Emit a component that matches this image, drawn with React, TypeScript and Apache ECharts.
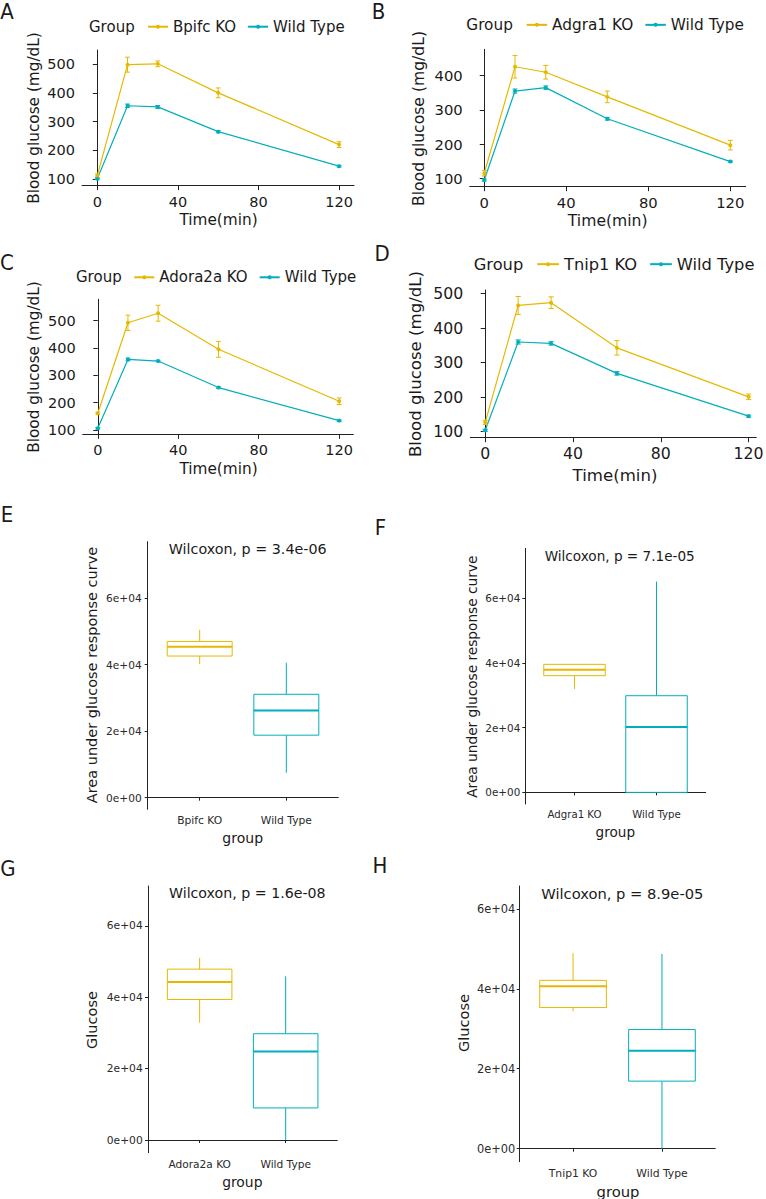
import React, { useEffect, useRef } from 'react';
import * as echarts from 'echarts';

// ---------- colours / fonts ----------
const YELLOW = '#E7B800';
const CYAN = '#00AFBB';
const INK = '#1a1a1a';
const FONT = "'DejaVu Sans', 'Noto Sans', sans-serif";
const LETTER_FONT = "'DejaVu Sans Condensed', 'Liberation Sans Narrow', 'DejaVu Sans', sans-serif";

// ---------- data: glucose tolerance curves ----------
const timeMin = [0, 15, 30, 60, 120];
const timeTicks = [0, 40, 80, 120];
const glucoseTicks = [100, 200, 300, 400, 500];
const glucoseTicksB = [100, 200, 300, 400];
const wildType = 'Wild Type';

const koNameA = 'Bpifc KO';
const koMeanA = [112, 498, 501, 400, 220];
const koSEA = [6, 26, 10, 17, 10];
const wtMeanA = [101, 355, 351, 265, 145];
const wtSEA = [3, 6, 5, 4, 3];

const koNameB = 'Adgra1 KO';
const koMeanB = [115, 426, 410, 338, 197];
const koSEB = [8, 33, 20, 17, 14];
const wtMeanB = [95, 355, 365, 274, 149];
const wtSEB = [3, 6, 5, 4, 2];

const koNameC = 'Adora2a KO';
const koMeanC = [161, 492, 527, 395, 205];
const koSEC = [4, 28, 29, 29, 12];
const wtMeanC = [106, 358, 352, 255, 134];
const wtSEC = [3, 5, 3, 3, 3];

const koNameD = 'Tnip1 KO';
const koMeanD = [127, 466, 474, 343, 201];
const koSED = [6, 26, 17, 21, 8];
const wtMeanD = [104, 360, 356, 269, 145];
const wtSED = [3, 6, 5, 5, 3];

// ---------- data: AUC boxplots [min, q1, median, q3, max] ----------
const aucTicks = [0, 20000, 40000, 60000];
const boxCatsE = ['Bpifc KO', 'Wild Type'];
const boxKoE = [40200, 42600, 45400, 47000, 50500];
const boxWtE = [7500, 18800, 26200, 31100, 40600];
const pLabelE = 'Wilcoxon, p = 3.4e-06';

const boxCatsF = ['Adgra1 KO', 'Wild Type'];
const boxKoF = [32000, 36100, 37900, 39600, 39600];
const boxWtF = [0, 0, 20200, 29900, 65200];
const pLabelF = 'Wilcoxon, p = 7.1e-05';

const boxCatsG = ['Adora2a KO', 'Wild Type'];
const boxKoG = [32900, 39400, 44300, 47900, 51100];
const boxWtG = [0, 9000, 24800, 29800, 45900];
const pLabelG = 'Wilcoxon, p = 1.6e-08';

const boxCatsH = ['Tnip1 KO', 'Wild Type'];
const boxKoH = [34400, 35300, 40600, 42100, 48900];
const boxWtH = [0, 16900, 24500, 29800, 48700];
const pLabelH = 'Wilcoxon, p = 8.9e-05';

// ---------- layout ----------
const linePanels = [
  { letter: 'A', lx: 7, ly: 11.5, ko: koNameA, koMean: koMeanA, koSE: koSEA, wtMean: wtMeanA, wtSE: wtSEA, yTicks: glucoseTicks,
    grid: { left: 82, top: 50, width: 272, height: 135.7 }, xr: [-7.6, 127.4], yr: [77, 549], s: 1,
    groupX: 89, legendX: 147, legendY: 26.7, yTitle: [34, 118], xTitle: [218.5, 220], xm: 8.5 },
  { letter: 'B', lx: 378.5, ly: 11.7, ko: koNameB, koMean: koMeanB, koSE: koSEB, wtMean: wtMeanB, wtSE: wtSEB, yTicks: glucoseTicksB,
    grid: { left: 469.7, top: 49.3, width: 276, height: 137.4 }, xr: [-7.1, 127.5], yr: [75.6, 477], s: 1.02,
    groupX: 466.3, legendX: 525.7, legendY: 25, yTitle: [419, 118.5], xTitle: [607.7, 221], xm: 8.5 },
  { letter: 'C', lx: 7, ly: 262.5, ko: koNameC, koMean: koMeanC, koSE: koSEC, wtMean: wtMeanC, wtSE: wtSEC, yTicks: glucoseTicks,
    grid: { left: 82.7, top: 299.3, width: 270.6, height: 135 }, xr: [-7.5, 127], yr: [84, 578], s: 1,
    groupX: 76, legendX: 133.3, legendY: 277.3, yTitle: [34, 367], xTitle: [218.5, 469.3], xm: 8.4 },
  { letter: 'D', lx: 382, ly: 253, ko: koNameD, koMean: koMeanD, koSE: koSED, wtMean: wtMeanD, wtSE: wtSED, yTicks: glucoseTicks,
    grid: { left: 470.3, top: 290, width: 286, height: 147.7 }, xr: [-6.8, 123.5], yr: [82.5, 510.8], s: 1.085,
    groupX: 473.7, legendX: 536.3, legendY: 264.3, yTitle: [415.5, 364], xTitle: [615, 475], xm: 7.7 },
];

const boxPanels = [
  { letter: 'E', lx: 7, ly: 514, cats: boxCatsE, ko: boxKoE, wt: boxWtE, p: pLabelE, yName: 'Area under glucose response curve',
    grid: { left: 147.7, top: 541.7, width: 190.6, height: 267.6 }, yr: [-3500, 77000],
    tick: 10.6, cat: 10.7, title: 14.3, grp: 14, yt: 14.5, ym: 6, xm: 6,
    yTitle: [91.7, 675], pPos: [247.7, 549], grpPos: [242.7, 838] },
  { letter: 'F', lx: 380.5, ly: 527, cats: boxCatsF, ko: boxKoF, wt: boxWtF, p: pLabelF, yName: 'Area under glucose response curve',
    grid: { left: 525.3, top: 548.3, width: 180.4, height: 255.7 }, yr: [-3600, 75500],
    tick: 10.4, cat: 10.2, title: 13.6, grp: 13.6, yt: 13.7, ym: 5, xm: 5.5,
    yTitle: [472.3, 676.7], pPos: [619.7, 556], grpPos: [615.3, 831.7] },
  { letter: 'G', lx: 8, ly: 868.5, cats: boxCatsG, ko: boxKoG, wt: boxWtG, p: pLabelG, yName: 'Glucose',
    grid: { left: 148, top: 886, width: 189.3, height: 266.7 }, yr: [-3550, 71200],
    tick: 10.7, cat: 10.6, title: 14.2, grp: 13.9, yt: 14.5, ym: 5.3, xm: 6,
    yTitle: [91.7, 1020], pPos: [247.3, 893.3], grpPos: [242.3, 1181.7] },
  { letter: 'H', lx: 380, ly: 865, cats: boxCatsH, ko: boxKoH, wt: boxWtH, p: pLabelH, yName: 'Glucose',
    grid: { left: 519.7, top: 886, width: 195.6, height: 275.7 }, yr: [-3250, 65700],
    tick: 11.4, cat: 10.8, title: 14.7, grp: 14.8, yt: 14.6, ym: 4.5, xm: 6,
    yTitle: [463, 1023], pPos: [622.3, 893.3], grpPos: [618, 1191.7] },
];

const ERR_CAP = 2.4; // minutes (full cap width)
const BOX_WIDTH = 0.75; // category units

const sci = (v: number) => {
  const [m, e] = v.toExponential(0).split('e');
  return `${m}e${e[0]}${e.slice(1).padStart(2, '0')}`;
};

const errRender = (color: string) => (params: any, api: any) => {
  const x = api.value(0);
  const top = api.coord([x, api.value(2)]);
  const bot = api.coord([x, api.value(1)]);
  const half = api.size([ERR_CAP, 0])[0] / 2;
  const style = { stroke: color, lineWidth: 1, fill: 'none' };
  return {
    type: 'group',
    children: [
      { type: 'line', shape: { x1: top[0], y1: top[1], x2: bot[0], y2: bot[1] }, style },
      { type: 'line', shape: { x1: top[0] - half, y1: top[1], x2: top[0] + half, y2: top[1] }, style },
      { type: 'line', shape: { x1: bot[0] - half, y1: bot[1], x2: bot[0] + half, y2: bot[1] }, style },
    ],
  };
};

const boxRender = (color: string) => (params: any, api: any) => {
  const x = api.value(0);
  const yMin = api.coord([x, api.value(1)])[1];
  const yQ1 = api.coord([x, api.value(2)])[1];
  const yMed = api.coord([x, api.value(3)])[1];
  const yQ3 = api.coord([x, api.value(4)])[1];
  const yMax = api.coord([x, api.value(5)])[1];
  const cx = api.coord([x, 0])[0];
  const half = api.size([BOX_WIDTH, 0])[0] / 2;
  const line = { stroke: color, lineWidth: 1, fill: 'none' };
  return {
    type: 'group',
    children: [
      { type: 'line', shape: { x1: cx, y1: yQ3, x2: cx, y2: yMax }, style: line },
      { type: 'line', shape: { x1: cx, y1: yQ1, x2: cx, y2: yMin }, style: line },
      { type: 'rect', shape: { x: cx - half, y: yQ3, width: half * 2, height: Math.max(yQ1 - yQ3, 0) },
        style: { fill: '#ffffff', stroke: color, lineWidth: 1 } },
      { type: 'line', shape: { x1: cx - half, y1: yMed, x2: cx + half, y2: yMed }, style: { stroke: color, lineWidth: 2 } },
    ],
  };
};

const txt = (text: string, x: number, y: number, size: number, opts: any = {}) => ({
  type: 'text',
  x,
  y,
  rotation: opts.rotation || 0,
  silent: true,
  style: {
    text,
    fill: opts.fill || INK,
    fontSize: size,
    fontFamily: opts.family || FONT,
    align: opts.align || 'center',
    textAlign: opts.align || 'center',
    verticalAlign: 'middle',
    textVerticalAlign: 'middle',
  },
});

function buildOption() {
  const grid: any[] = [];
  const xAxis: any[] = [];
  const yAxis: any[] = [];
  const series: any[] = [];
  const legend: any[] = [];
  const graphic: any[] = [];
  const axisLine = { show: true, lineStyle: { color: '#222', width: 1 } };

  linePanels.forEach((p, i) => {
    grid.push({ ...p.grid, containLabel: false, outerBoundsMode: 'none' });
    xAxis.push({
      type: 'value', gridIndex: i, min: p.xr[0], max: p.xr[1],
      axisLine, splitLine: { show: false },
      axisTick: { show: true, length: 4.5, customValues: timeTicks, lineStyle: { color: '#222' } },
      axisLabel: { customValues: timeTicks, fontSize: 14.5 * p.s, color: INK, fontFamily: FONT, margin: p.xm },
    });
    yAxis.push({
      type: 'value', gridIndex: i, min: p.yr[0], max: p.yr[1],
      axisLine, splitLine: { show: false },
      axisTick: { show: true, length: 4.5, customValues: p.yTicks, lineStyle: { color: '#222' } },
      axisLabel: { customValues: p.yTicks, fontSize: 14.5 * p.s, color: INK, fontFamily: FONT, margin: 7 },
    });
    const mk = (name: string, mean: number[], color: string) => ({
      type: 'line', name, xAxisIndex: i, yAxisIndex: i,
      data: timeMin.map((t, k) => [t, mean[k]]),
      symbol: 'circle', symbolSize: 4, showSymbol: true,
      itemStyle: { color }, lineStyle: { color, width: 1.2 }, z: 2,
    });
    const mkErr = (name: string, mean: number[], se: number[], color: string) => ({
      type: 'custom', name: name + ' SE', xAxisIndex: i, yAxisIndex: i, coordinateSystem: 'cartesian2d',
      data: timeMin.map((t, k) => [t, mean[k] - se[k], mean[k] + se[k]]),
      renderItem: errRender(color), encode: { x: 0, y: [1, 2] }, z: 3,
    });
    series.push(mk(p.ko, p.koMean, YELLOW), mk(wildType, p.wtMean, CYAN));
    series.push(mkErr(p.ko, p.koMean, p.koSE, YELLOW), mkErr(wildType + i, p.wtMean, p.wtSE, CYAN));
    const lf = 15 * p.s;
    legend.push({
      data: [p.ko, wildType], left: p.legendX, top: p.legendY - lf / 2, padding: 0,
      itemWidth: 20 * p.s, itemHeight: 5, itemGap: 11 * p.s, selectedMode: false,
      textStyle: { fontSize: lf, color: INK, fontFamily: FONT },
    });
    graphic.push(txt('Group', p.groupX, p.legendY, lf, { align: 'left' }));
    graphic.push(txt('Blood glucose (mg/dL)', p.yTitle[0], p.yTitle[1], 15.3 * p.s, { rotation: Math.PI / 2 }));
    graphic.push(txt('Time(min)', p.xTitle[0], p.xTitle[1], 15.3 * p.s));
    graphic.push(txt(p.letter, p.lx, p.ly, 22, { family: LETTER_FONT }));
  });

  boxPanels.forEach((p, j) => {
    const i = linePanels.length + j;
    grid.push({ ...p.grid, containLabel: false, outerBoundsMode: 'none' });
    xAxis.push({
      type: 'value', gridIndex: i, min: 0.4, max: 2.6,
      axisLine, splitLine: { show: false },
      axisTick: { show: true, length: 3, customValues: [1, 2], lineStyle: { color: '#222' } },
      axisLabel: { customValues: [1, 2], formatter: (v: number) => p.cats[Math.round(v) - 1] || '',
        fontSize: p.cat, color: '#2a2a2a', fontFamily: FONT, margin: p.xm },
    });
    yAxis.push({
      type: 'value', gridIndex: i, min: p.yr[0], max: p.yr[1],
      axisLine, splitLine: { show: false },
      axisTick: { show: true, length: 3, customValues: aucTicks, lineStyle: { color: '#222' } },
      axisLabel: { customValues: aucTicks, formatter: sci, fontSize: p.tick, color: '#2a2a2a', fontFamily: FONT, margin: p.ym },
    });
    series.push({
      type: 'custom', name: p.cats[0] + ' box', xAxisIndex: i, yAxisIndex: i, coordinateSystem: 'cartesian2d',
      data: [[1, ...p.ko]], renderItem: boxRender(YELLOW), encode: { x: 0, y: [1, 2, 3, 4, 5] },
    });
    series.push({
      type: 'custom', name: p.cats[1] + ' box' + j, xAxisIndex: i, yAxisIndex: i, coordinateSystem: 'cartesian2d',
      data: [[2, ...p.wt]], renderItem: boxRender(CYAN), encode: { x: 0, y: [1, 2, 3, 4, 5] },
    });
    graphic.push(txt(p.p, p.pPos[0], p.pPos[1], p.title));
    graphic.push(txt('group', p.grpPos[0], p.grpPos[1], p.grp));
    graphic.push(txt(p.yName, p.yTitle[0], p.yTitle[1], p.yt, { rotation: Math.PI / 2 }));
    graphic.push(txt(p.letter, p.lx, p.ly, 22, { family: LETTER_FONT }));
  });

  return {
    animation: false,
    backgroundColor: '#ffffff',
    textStyle: { fontFamily: FONT },
    grid, xAxis, yAxis, series, legend,
    graphic: { elements: graphic },
  };
}

export default function App() {
  const ref = useRef<HTMLDivElement>(null);
  useEffect(() => {
    if (!ref.current) return;
    const chart = echarts.init(ref.current, undefined, { renderer: 'svg' });
    chart.setOption(buildOption() as any);
    return () => chart.dispose();
  }, []);
  return (
    <div
      ref={ref}
      style={{ position: 'absolute', left: 0, top: 0, width: 766, height: 1199, background: '#fff' }}
    />
  );
}
